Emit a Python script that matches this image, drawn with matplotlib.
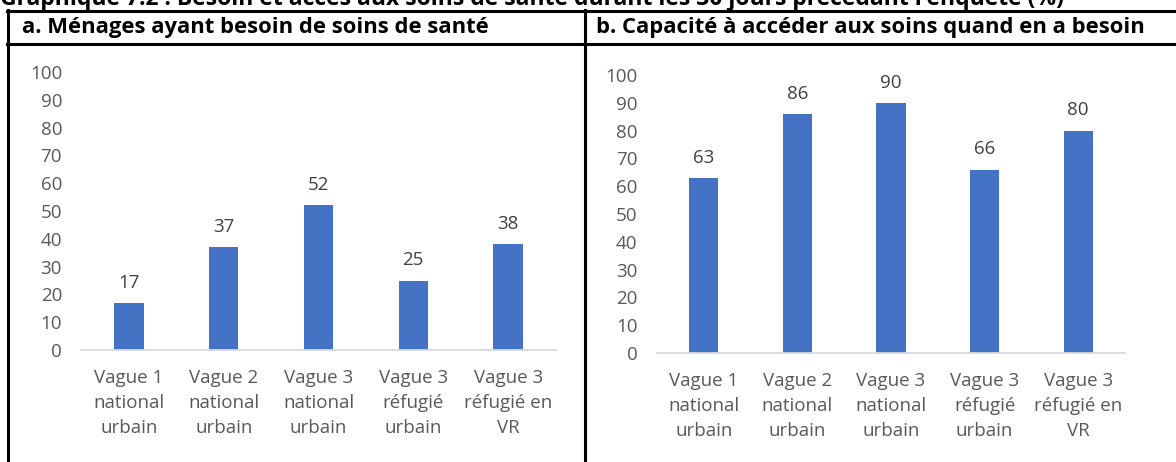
import matplotlib.pyplot as plt

plt.rcParams['font.family'] = ['Open Sans', 'DejaVu Sans']

# data
categories = ['Vague 1\nnational\nurbain', 'Vague 2\nnational\nurbain', 'Vague 3\nnational\nurbain',
              'Vague 3\nréfugié\nurbain', 'Vague 3\nréfugié en\nVR']
besoin = [17, 37, 52, 25, 38]
acces = [63, 86, 90, 66, 80]
yticks = list(range(0, 101, 10))

main_title = "Graphique 7.2 : Besoin et accès aux soins de santé durant les 30 jours précédant l'enquête (%)"
title_a = 'a. Ménages ayant besoin de soins de santé'
title_b = 'b. Capacité à accéder aux soins quand en a besoin'

W, H = 1176, 462
fig = plt.figure(figsize=(W / 100, H / 100), dpi=100)

bar_color = '#4472C4'
tick_color = '#595959'
label_color = '#404040'


def px_axes(x0, x1, y_top, y_bottom):
    return fig.add_axes([x0 / W, 1 - y_bottom / H, (x1 - x0) / W, (y_bottom - y_top) / H])


def draw_panel(ax, values):
    x = range(len(values))
    bars = ax.bar(x, values, width=0.31, color=bar_color)
    ax.set_xlim(-0.5, len(values) - 0.5)
    ax.set_ylim(0, 100)
    ax.set_yticks(yticks)
    ax.set_xticks(list(x))
    ax.set_xticklabels(categories, linespacing=1.5)
    for s in ['top', 'right', 'left']:
        ax.spines[s].set_visible(False)
    ax.spines['bottom'].set_color('#D9D9D9')
    ax.spines['bottom'].set_linewidth(1.3)
    ax.tick_params(axis='both', length=0, labelsize=13.5, colors=tick_color)
    ax.tick_params(axis='x', pad=14)
    ax.tick_params(axis='y', pad=14)
    for lab in ax.get_yticklabels():
        lab.set_clip_on(False)
    for b, v in zip(bars, values):
        ax.annotate(str(v), (b.get_x() + b.get_width() / 2, v), xytext=(0, 14.5),
                    textcoords='offset points', ha='center', va='center',
                    fontsize=13.5, color=label_color)
    ax.patch.set_alpha(0)


ax_a = px_axes(81.5, 555.5, 72, 350)
draw_panel(ax_a, besoin)
ax_b = px_axes(657, 1125, 75, 353)
draw_panel(ax_b, acces)

# table frame
def hline(y, x0=7, x1=W):
    fig.add_artist(plt.Line2D([x0 / W, x1 / W], [1 - y / H, 1 - y / H], color='black', lw=2.2))

def vline(x, y0=10, y1=H):
    fig.add_artist(plt.Line2D([x / W, x / W], [1 - y0 / H, 1 - y1 / H], color='black', lw=2.2))

hline(11)
hline(44)
vline(8)
vline(585)

fig.text(0 / W, 1 - 5 / H, main_title, fontsize=16.5, fontweight='bold', va='baseline', ha='left')
fig.text(22 / W, 1 - 28 / H, title_a, fontsize=15.8, fontweight='bold', va='center', ha='left')
fig.text(596 / W, 1 - 28 / H, title_b, fontsize=15.8, fontweight='bold', va='center', ha='left')

fig.savefig('out.png', dpi=100)
